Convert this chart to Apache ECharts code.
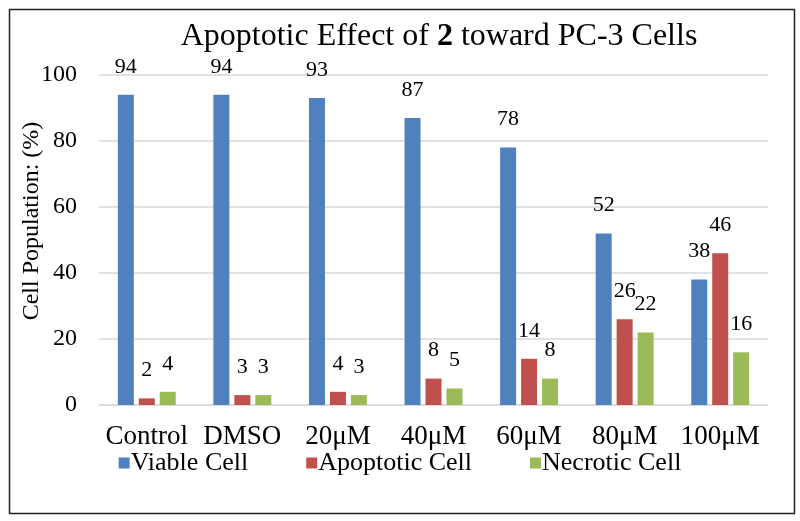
<!DOCTYPE html>
<html>
<head>
<meta charset="utf-8">
<script src="https://cdn.jsdelivr.net/npm/echarts@6/dist/echarts.min.js"></script>
<style>html,body{margin:0;padding:0;background:#fff;}#c{width:800px;height:521px;}</style>
</head>
<body>
<div id="c"></div>
<script>
const categories = ['Control', 'DMSO', '20μM', '40μM', '60μM', '80μM', '100μM'];
const viable = [94, 94, 93, 87, 78, 52, 38];
const apoptotic = [2, 3, 4, 8, 14, 26, 46];
const necrotic = [4, 3, 3, 5, 8, 22, 16];
const seriesNames = ['Viable Cell', 'Apoptotic Cell', 'Necrotic Cell'];
const yTicks = [0, 20, 40, 60, 80, 100];

const FONT = '"Liberation Serif", "Times New Roman", serif';
const colors = ['#4F81BD', '#C0504D', '#9BBB59'];
const chart = echarts.init(document.getElementById('c'), null, {renderer: 'canvas'});

function mk(name, data, color) {
  return {
    name: name, type: 'bar', data: data,
    barWidth: 16, barGap: '31%', barCategoryGap: '39%',
    itemStyle: {color: color},
    label: {show: true, position: 'top', distance: 17, fontFamily: FONT, fontSize: 22, color: '#000'}
  };
}

chart.setOption({
  animation: false,
  backgroundColor: '#fff',
  title: {
    text: '{n|Apoptotic Effect of }{b|2}{n| toward PC-3 Cells}',
    left: 434, top: 16, textAlign: 'center',
    textStyle: {
      fontWeight: 'normal',
      rich: {
        n: {fontFamily: FONT, fontSize: 32, fontWeight: 'normal', color: '#000'},
        b: {fontFamily: FONT, fontSize: 32, fontWeight: 'bold', color: '#000'}
      }
    }
  },
  legend: {
    data: seriesNames, bottom: 40, left: 'center',
    itemWidth: 11, itemHeight: 11, itemGap: 58,
    icon: 'rect',
    textStyle: {fontFamily: FONT, fontSize: 26, color: '#000', padding: [0, 0, 0, -4]}
  },
  grid: {left: 99, right: 32, top: 75, bottom: 116, containLabel: false},
  xAxis: {
    type: 'category', data: categories,
    axisLine: {show: true, lineStyle: {color: '#D9D9D9', width: 1.5}},
    axisTick: {show: false},
    axisLabel: {fontFamily: FONT, fontSize: 27, color: '#000', margin: 18, interval: 0}
  },
  yAxis: {
    type: 'value', min: 0, max: 100, interval: 20,
    name: 'Cell Population: (%)', nameLocation: 'middle', nameGap: 55,
    nameMoveOverlap: false,
    nameTextStyle: {fontFamily: FONT, fontSize: 24, color: '#000', padding: [0, 0, 0, 38]},
    axisLine: {show: false}, axisTick: {show: false},
    splitLine: {lineStyle: {color: '#D9D9D9', width: 1.5}},
    axisLabel: {fontFamily: FONT, fontSize: 24, color: '#000', margin: 22,
      formatter: function (v) { return yTicks.indexOf(v) >= 0 ? String(v) : ''; }}
  },
  graphic: [{
    type: 'rect', left: 7, top: 7, shape: {width: 785, height: 504},
    style: {fill: 'none', stroke: '#222', lineWidth: 1.5}, silent: true
  }],
  series: [
    mk(seriesNames[0], viable, colors[0]),
    mk(seriesNames[1], apoptotic, colors[1]),
    mk(seriesNames[2], necrotic, colors[2])
  ]
});
</script>
</body>
</html>
